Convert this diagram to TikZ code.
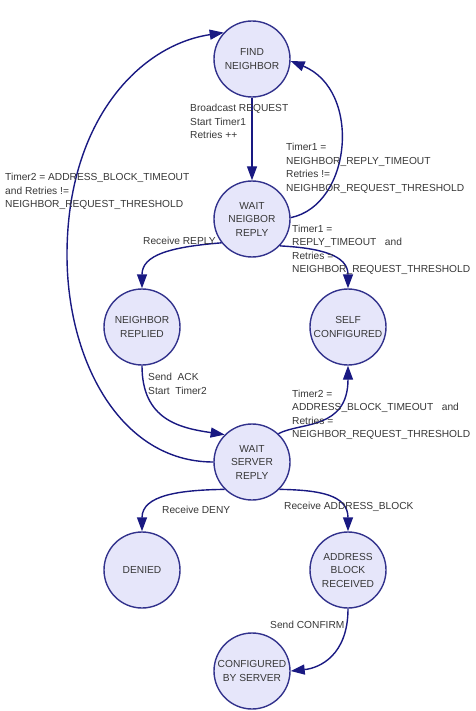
\documentclass[tikz,border=0pt]{standalone}
\usepackage{fontspec}
\setmainfont{Liberation Sans}
\usetikzlibrary{arrows.meta}
\definecolor{stfill}{RGB}{230,230,250}
\definecolor{stline}{RGB}{50,50,140}
\definecolor{edgecol}{RGB}{25,25,130}
\definecolor{txt}{RGB}{55,55,55}
\begin{document}
\begin{tikzpicture}[x=1pt,y=-1pt,
  state/.style={circle,draw=stline,fill=stfill,line width=1.4pt,minimum size=76pt,inner sep=0pt,
    align=center,font=\fontsize{10.2}{13.5}\selectfont,text=txt},
  trans/.style={draw=edgecol,line width=1.4pt,-{Triangle[length=14pt,width=10pt,fill=edgecol]}},
  lbl/.style={anchor=north west,inner sep=0pt,align=left,font=\fontsize{10.2}{13.5}\selectfont,text=txt}]
\useasboundingbox (0,0) rectangle (475,711);

\node[state] (fn) at (252,59) {FIND\\NEIGHBOR};
\node[state] (wn) at (252,219) {WAIT\\NEIGBOR\\REPLY};
\node[state] (nr) at (142,327) {NEIGHBOR\\REPLIED};
\node[state] (sc) at (348,327) {SELF\\CONFIGURED};
\node[state] (ws) at (252,462) {WAIT\\SERVER\\REPLY};
\node[state] (dn) at (142,570) {DENIED};
\node[state] (ab) at (348,570) {ADDRESS\\BLOCK\\RECEIVED};
\node[state] (cs) at (252,671) {CONFIGURED\\BY SERVER};

\coordinate (far) at (67,255);

% FIND -> WAIT NEIGBOR
\draw[trans] (fn.south) -- (wn.north);
% WAIT NEIGBOR -> FIND (retry)
\draw[trans] (wn.2) .. controls (352,205) and (362,90) .. (fn.-3);
% WAIT SERVER -> FIND
\draw[trans] (ws.180) .. controls (120,462) and (67,360) .. (far)
  .. controls (67,120) and (140,45) .. (fn.137);
% WAIT NEIGBOR -> NEIGHBOR REPLIED
\draw[trans] (wn.-142) .. controls (170,247) and (142,255) .. (nr.north);
% WAIT NEIGBOR -> SELF CONFIGURED
\draw[trans] (wn.-44) .. controls (320,248) and (348,255) .. (sc.north);
% NEIGHBOR REPLIED -> WAIT SERVER
\draw[trans] (nr.south) .. controls (142,420) and (180,428) .. (ws.135);
% WAIT SERVER -> SELF CONFIGURED
\draw[trans] (ws.47) .. controls (300,422) and (348,430) .. (sc.south);
% WAIT SERVER -> DENIED
\draw[trans] (ws.-135) .. controls (180,490) and (142,495) .. (dn.north);
% WAIT SERVER -> ADDRESS BLOCK
\draw[trans] (ws.-45) .. controls (320,490) and (348,495) .. (ab.north);
% ADDRESS BLOCK -> CONFIGURED BY SERVER
\draw[trans] (ab.south) .. controls (348,655) and (320,668) .. (cs.east);

\node[lbl] (l1) at (190,104.3) {Broadcast REQUEST\\Start Timer1\\Retries ++};
\node[lbl] (l2) at (286,143) {Timer1 =\\NEIGHBOR\_REPLY\_TIMEOUT\\Retries !=\\NEIGHBOR\_REQUEST\_THRESHOLD};
\node[lbl] (l3) at (5,173) {Timer2 = ADDRESS\_BLOCK\_TIMEOUT\\and Retries !=\\NEIGHBOR\_REQUEST\_THRESHOLD};
\node[lbl] (l4) at (143,236.8) {Receive REPLY};
\node[lbl] (l5) at (292,224.6) {Timer1 =\\REPLY\_TIMEOUT \ \ and\\Retries =\\NEIGHBOR\_REQUEST\_THRESHOLD};
\node[lbl] (l6) at (148,373) {Send \ ACK\\Start \ Timer2};
\node[lbl] (l7) at (292,389.6) {Timer2 =\\ADDRESS\_BLOCK\_TIMEOUT \ \ and\\Retries =\\NEIGHBOR\_REQUEST\_THRESHOLD};
\node[lbl] (l8) at (162,506.3) {Receive DENY};
\node[lbl] (l9) at (284,502) {Receive ADDRESS\_BLOCK};
\node[lbl] (l10) at (270,621.3) {Send CONFIRM};
\end{tikzpicture}
\end{document}
